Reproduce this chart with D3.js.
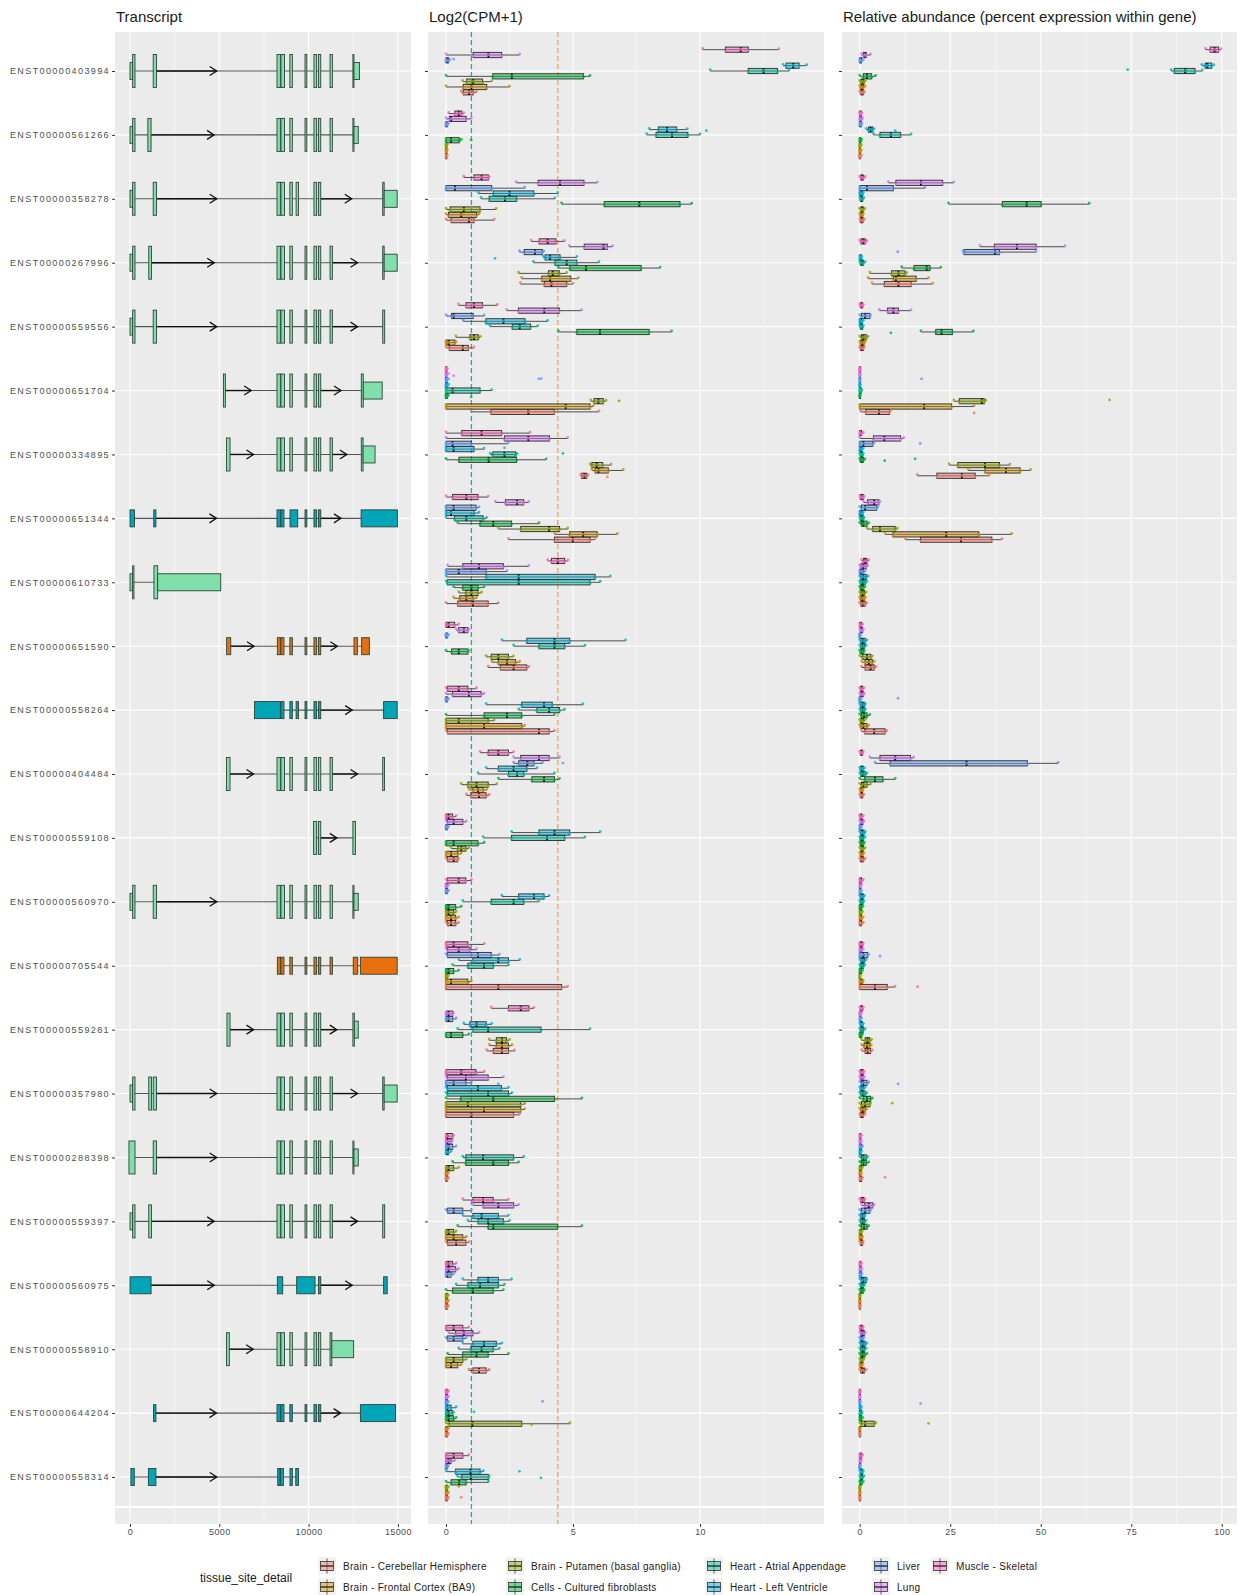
<!DOCTYPE html>
<html>
<head>
<meta charset="utf-8">
<script src="https://cdn.jsdelivr.net/npm/d3@7"></script>
<style>
body { margin: 0; background: #fff; }
svg { display: block; font-family: "Liberation Sans", Arial, sans-serif; }
</style>
</head>
<body>
<svg id="chart" width="1238" height="1595"></svg>
<script>
// ---- data ----
var transcripts = ["ENST00000403994","ENST00000561266","ENST00000358278","ENST00000267996","ENST00000559556",
  "ENST00000651704","ENST00000334895","ENST00000651344","ENST00000610733","ENST00000651590","ENST00000558264",
  "ENST00000404484","ENST00000559108","ENST00000560970","ENST00000705544","ENST00000559281","ENST00000357980",
  "ENST00000288398","ENST00000559397","ENST00000560975","ENST00000558910","ENST00000644204","ENST00000558314"];

var tissues = ["Brain - Cerebellar Hemisphere","Brain - Frontal Cortex (BA9)","Brain - Putamen (basal ganglia)",
  "Cells - Cultured fibroblasts","Heart - Atrial Appendage","Heart - Left Ventricle","Liver","Lung","Muscle - Skeletal"];
var tissueColors = ["#F8766D","#D39200","#93AA00","#00BA38","#00C19F","#00B9E3","#619CFF","#DB72FB","#FF61C3"];

var txType = ["pc","pc","pc","pc","pc","pc","pc","nmd","pc","ri","nmd","pc","pc","pc","ri","pc","pc","pc","pc","nmd","pc","nmd","nmd"];
var typeFill = { pc: "#80dfaa", nmd: "#00a5b8", ri: "#e8700c" };

// exons: [start, end, part] part c = coding (tall), u = utr (short)
var exons = [
  [[0,150,"u"],[150,280,"c"],[1300,1480,"c"],[8230,8420,"c"],[8450,8650,"c"],[8950,9090,"c"],[9800,9900,"c"],[10300,10450,"c"],[10550,10680,"c"],[11200,11330,"c"],[12480,12540,"c"],[12540,12850,"u"]],
  [[0,150,"u"],[150,280,"c"],[1000,1180,"c"],[8230,8420,"c"],[8450,8650,"c"],[8950,9090,"c"],[9800,9900,"c"],[10300,10450,"c"],[10550,10680,"c"],[11200,11330,"c"],[12480,12540,"c"],[12540,12780,"u"]],
  [[0,150,"u"],[150,280,"c"],[1300,1480,"c"],[8230,8420,"c"],[8450,8650,"c"],[8950,9090,"c"],[9300,9430,"c"],[10300,10450,"c"],[10550,10680,"c"],[14150,14230,"c"],[14230,14960,"u"]],
  [[0,150,"u"],[150,280,"c"],[1050,1200,"c"],[8230,8420,"c"],[8450,8650,"c"],[8950,9090,"c"],[9800,9900,"c"],[10300,10450,"c"],[10550,10680,"c"],[11200,11330,"c"],[14150,14230,"c"],[14230,14960,"u"]],
  [[0,150,"u"],[150,280,"c"],[1300,1480,"c"],[8230,8420,"c"],[8450,8650,"c"],[8950,9090,"c"],[9800,9900,"c"],[10300,10450,"c"],[10550,10680,"c"],[11200,11330,"c"],[14150,14260,"c"]],
  [[5230,5340,"c"],[8230,8420,"c"],[8450,8650,"c"],[8950,9090,"c"],[9800,9900,"c"],[10300,10450,"c"],[10550,10680,"c"],[12950,13060,"c"],[13060,14120,"u"]],
  [[5400,5600,"c"],[8230,8420,"c"],[8450,8650,"c"],[8950,9090,"c"],[9800,9900,"c"],[10300,10450,"c"],[10550,10680,"c"],[11200,11330,"c"],[12950,13050,"c"],[13050,13720,"u"]],
  [[0,250,"u"],[1330,1450,"u"],[8230,8420,"u"],[8450,8620,"u"],[8960,9390,"u"],[9800,9900,"u"],[10300,10450,"u"],[10550,10680,"u"],[12940,14970,"u"]],
  [[0,150,"u"],[150,220,"c"],[1340,1550,"c"],[1550,5080,"u"]],
  [[5410,5640,"u"],[8250,8420,"u"],[8450,8620,"u"],[8950,9090,"u"],[9800,9900,"u"],[10300,10450,"u"],[10550,10680,"u"],[12540,12730,"u"],[12970,13400,"u"]],
  [[6970,8420,"u"],[8450,8620,"u"],[8950,9090,"u"],[9300,9430,"u"],[9800,9900,"u"],[10300,10450,"u"],[10550,10680,"u"],[14200,14960,"u"]],
  [[5400,5600,"c"],[8230,8420,"c"],[8450,8650,"c"],[8950,9090,"c"],[9800,9900,"c"],[10300,10450,"c"],[10550,10680,"c"],[11200,11330,"c"],[14150,14250,"c"]],
  [[10280,10450,"c"],[10550,10680,"c"],[12480,12620,"c"]],
  [[0,150,"u"],[150,280,"c"],[1300,1480,"c"],[8230,8420,"c"],[8450,8650,"c"],[8950,9090,"c"],[9800,9900,"c"],[10300,10450,"c"],[10550,10680,"c"],[11200,11330,"c"],[12480,12540,"c"],[12540,12780,"u"]],
  [[8250,8420,"u"],[8450,8620,"u"],[8950,9090,"u"],[9800,9900,"u"],[10300,10450,"u"],[10550,10680,"u"],[11200,11330,"u"],[12500,12750,"u"],[12900,14960,"u"]],
  [[5430,5600,"c"],[8230,8420,"c"],[8450,8650,"c"],[8950,9090,"c"],[9800,9900,"c"],[10300,10450,"c"],[10550,10680,"c"],[12480,12560,"c"],[12560,12780,"u"]],
  [[0,150,"u"],[150,280,"c"],[1050,1200,"c"],[1300,1480,"c"],[8230,8420,"c"],[8450,8650,"c"],[8950,9090,"c"],[9800,9900,"c"],[10300,10450,"c"],[10550,10680,"c"],[11200,11330,"c"],[14150,14230,"c"],[14230,14960,"u"]],
  [[-60,280,"c"],[1300,1480,"c"],[8230,8420,"c"],[8450,8650,"c"],[8950,9090,"c"],[9800,9900,"c"],[10300,10450,"c"],[10550,10680,"c"],[11200,11330,"c"],[12480,12540,"c"],[12540,12780,"u"]],
  [[0,150,"u"],[150,280,"c"],[1050,1200,"c"],[8230,8420,"c"],[8450,8650,"c"],[8950,9090,"c"],[9800,9900,"c"],[10300,10450,"c"],[10550,10680,"c"],[11200,11330,"c"],[14150,14260,"c"]],
  [[0,1180,"u"],[8250,8550,"u"],[9330,10360,"u"],[10550,10680,"u"],[14200,14400,"u"]],
  [[5400,5560,"c"],[8230,8420,"c"],[8450,8650,"c"],[8950,9090,"c"],[9800,9900,"c"],[10300,10450,"c"],[10550,10680,"c"],[11200,11300,"c"],[11300,12520,"u"]],
  [[1320,1450,"u"],[8230,8420,"u"],[8450,8620,"u"],[8950,9090,"u"],[9800,9900,"u"],[10300,10450,"u"],[10550,10680,"u"],[12900,14870,"u"]],
  [[50,240,"u"],[1030,1450,"u"],[8270,8400,"u"],[8430,8590,"u"],[8960,9090,"u"],[9280,9430,"u"]]
];

// boxplot stats per transcript, per tissue: [lower whisker, q1, median, q3, upper whisker]
var cpmStats = [
  [[0.6,0.68,0.91,1.07,1.2],[0,0.68,1.0,1.6,2.5],[0.65,0.81,1.07,1.44,1.8],[0,1.84,2.59,5.41,5.67],[10.4,11.9,12.5,13.05,13.5],[13.27,13.39,13.67,13.9,14.2],[0,0,0.05,0.1,0.15],[0,1.07,1.67,2.19,2.9],[10.1,11.0,11.6,11.9,13.1]],
  [[0,0,0,0.02,0.05],[0,0,0,0.02,0.05],[0,0,0,0.02,0.05],[0,0,0.2,0.52,0.6],[7.9,8.27,8.9,9.52,10.0],[8.0,8.36,8.7,9.08,9.5],[0,0,0,0.05,0.1],[0,0.13,0.2,0.79,1.0],[0.1,0.35,0.5,0.62,0.7]],
  [[0,0.2,0.9,1.1,1.9],[0,0.1,0.6,1.2,1.3],[0,0.16,0.7,1.34,1.97],[4.55,6.23,7.61,9.21,9.67],[1.38,1.7,2.32,2.78,4.29],[1.27,1.86,2.5,3.46,4.4],[0,0,0.35,1.8,3.1],[2.76,3.63,4.49,5.43,5.96],[0.7,1.1,1.4,1.67,1.7]],
  [[2.93,3.87,4.15,4.75,5.0],[2.98,3.77,4.1,4.91,5.21],[2.85,4.03,4.2,4.46,4.75],[4.42,4.88,5.51,7.68,8.43],[3.44,4.29,4.75,5.15,6.02],[3.83,3.9,4.1,4.49,5.15],[2.89,3.08,3.5,3.79,3.85],[4.85,5.44,6.2,6.35,6.56],[3.35,3.67,4.0,4.33,4.66]],
  [[0,0.13,0.66,0.88,1.1],[0,0,0.1,0.35,0.4],[0.39,0.94,1.1,1.27,1.35],[4.42,5.15,6.06,8.0,8.88],[1.73,2.61,2.9,3.33,3.61],[0.68,1.57,2.26,3.11,4.0],[0,0.22,0.3,1.07,1.5],[2.39,2.85,3.87,4.46,5.34],[0.49,0.79,1.1,1.44,2.02]],
  [[0.99,1.77,3.24,4.26,6.02],[0,0,4.71,5.67,5.8],[5.7,5.83,6.0,6.19,6.3],[0,0,0,0.05,0.1],[0,0,0.26,1.34,1.8],[0,0,0,0.05,0.1],[0,0,0,0.02,0.1],[0,0,0,0.02,0.1],[0,0,0,0,0.05]],
  [[5.3,5.34,5.45,5.54,5.6],[5.74,5.87,6.0,6.39,6.98],[5.67,5.74,5.93,6.17,6.5],[0,0.51,1.68,2.78,3.94],[1.74,1.84,2.3,2.74,2.8],[0,0,0.3,1.1,1.5],[0,0,0.26,1.0,2.45],[0,2.3,3.24,4.07,4.79],[0,0.62,1.4,2.19,3.3]],
  [[2.46,4.27,4.99,5.67,5.87],[4.27,4.87,5.4,5.95,6.75],[2.06,2.94,4.06,4.47,4.79],[0.46,1.34,1.86,2.58,3.66],[0,0.34,0.8,1.46,1.6],[0,0,0.2,1.1,1.3],[0,0,0.3,1.18,1.3],[1.94,2.34,2.8,3.06,3.26],[0,0.26,0.8,1.26,1.66]],
  [[0,0.46,1.06,1.66,2.06],[0.3,0.54,0.8,1.06,1.2],[0.5,0.78,1,1.26,1.4],[0.3,0.66,1,1.26,1.5],[0,0.05,2.86,5.67,6.07],[0,1.58,2.86,5.87,6.47],[0,0,0.5,1.58,2.4],[0.06,0.66,1.3,2.26,3.26],[4.0,4.15,4.4,4.67,4.8]],
  [[1.66,2.14,2.66,3.18,3.26],[1.8,2.06,2.4,2.74,2.9],[1.58,1.78,2.06,2.46,2.66],[0,0.22,0.5,0.86,0.9],[2.66,3.66,4.27,4.67,5.47],[2.2,3.18,4.27,4.87,7.07],[0,0,0,0.05,0.1],[0.4,0.5,0.7,0.86,0.9],[0,0,0.1,0.34,0.5]],
  [[0,0.06,3.66,4.06,4.27],[0,0,1.5,2.98,3.1],[0,0,0.5,1.66,1.9],[0,1.5,2.4,2.98,4.27],[2.86,3.58,4.06,4.47,4.67],[1.58,2.98,3.86,4.18,5.39],[0,0,0,0.05,0.1],[0,0.26,0.9,1.38,1.5],[0,0.06,0.5,0.86,1.2]],
  [[0.8,0.98,1.3,1.58,1.7],[0.9,1.06,1.26,1.46,1.6],[0.6,0.86,1.2,1.66,2],[2.06,3.38,3.86,4.27,4.47],[1.26,2.46,2.8,3.06,4.27],[1.58,2.06,2.66,3.18,3.58],[2.66,2.86,3.2,3.46,3.8],[2.66,2.94,3.66,4.06,4.47],[1.34,1.66,2.06,2.46,2.66]],
  [[0,0.06,0.3,0.46,0.5],[0,0,0.2,0.46,0.6],[0.2,0.46,0.6,0.78,0.9],[0,0,0.3,1.26,1.5],[1.46,2.58,3.98,4.67,5.47],[2.58,3.66,4.27,4.87,6.07],[0,0,0,0.05,0.1],[0,0.06,0.3,0.66,0.8],[0,0,0.1,0.26,0.4]],
  [[0,0.06,0.2,0.38,0.5],[0,0,0.2,0.38,0.5],[0,0,0.1,0.3,0.4],[0,0,0.1,0.38,0.6],[0.66,1.78,2.66,3.06,3.66],[2.2,2.86,3.46,3.86,4.06],[0,0,0,0.05,0.1],[0,0,0,0.05,0.1],[0,0.06,0.5,0.78,1]],
  [[0,0,2.06,4.55,4.79],[0,0,0.2,0.86,1],[0,0,0,0.05,0.1],[0,0,0.1,0.3,0.5],[0.26,0.86,1.5,1.86,2.46],[0.5,1.06,2.06,2.46,2.9],[0,0.06,1.26,1.78,2.1],[0,0.06,0.5,0.94,1.2],[0,0,0.3,0.86,1.5]],
  [[1.6,1.86,2.2,2.46,2.7],[1.7,1.98,2.2,2.46,2.6],[1.7,1.98,2.2,2.38,2.5],[0,0,0.2,0.66,0.9],[0.46,1.06,1.66,3.74,5.67],[0.7,0.94,1.2,1.58,1.8],[0,0,0.1,0.26,0.4],[0,0,0.1,0.26,0.3],[1.78,2.46,2.94,3.26,3.46]],
  [[0,0,1.0,2.66,2.9],[0,0,1.5,2.94,3.1],[0,0,0.86,2.94,3.1],[0,0.58,1.86,4.27,5.35],[0,0.06,1.66,2.46,2.6],[0,0.06,1.26,2.18,2.46],[0,0,0.3,0.78,1],[0,0.06,0.78,1.66,2.26],[0,0,0.6,1.18,1.5]],
  [[0,0,0,0.05,0.1],[0,0,0,0.05,0.1],[0,0,0.1,0.3,0.5],[0.26,0.78,1.86,2.46,2.86],[0.66,0.78,1.46,2.66,3.06],[0,0,0.05,0.1,0.2],[0,0,0.1,0.26,0.4],[0,0,0.05,0.2,0.25],[0,0,0.05,0.26,0.3]],
  [[0,0.06,0.4,0.78,0.9],[0,0,0.3,0.66,0.8],[0,0,0.1,0.3,0.4],[0.46,1.66,1.86,4.39,5.35],[0.86,1.26,1.66,2.26,2.5],[0.66,1.06,1.4,2.06,2.46],[0,0.06,0.3,0.66,1],[1.06,1.46,2.06,2.66,2.86],[0.66,1.06,1.46,1.86,2.46]],
  [[0,0,0,0.05,0.1],[0,0,0,0.05,0.1],[0,0,0,0.05,0.1],[0,0.26,1.06,1.86,2.26],[0.4,0.86,1.34,2.06,2.3],[0.66,1.26,1.66,2.06,2.58],[0,0,0.05,0.2,0.3],[0,0,0.1,0.38,0.5],[0,0,0.1,0.26,0.4]],
  [[0.9,1.06,1.3,1.58,1.7],[0,0,0.2,0.46,0.6],[0,0,0.3,0.66,0.8],[0.06,0.66,1.2,1.66,2.46],[0.5,0.98,1.4,1.86,2.1],[0.66,1.06,1.5,1.98,2.2],[0,0.06,0.3,0.66,0.8],[0.1,0.38,0.7,1.06,1.3],[0,0,0.3,0.66,0.9]],
  [[0,0,0,0.05,0.1],[0,0,0,0.05,0.1],[0,0.12,1.04,2.98,4.88],[0,0,0.1,0.3,0.4],[0,0,0.1,0.25,0.3],[0,0,0.05,0.2,0.4],[0,0,0,0.05,0.1],[0,0,0,0.05,0.1],[0,0,0,0.05,0.1]],
  [[0,0,0,0.05,0.1],[0,0,0,0.05,0.1],[0,0,0,0.05,0.1],[0,0.2,0.52,0.79,1.67],[0.45,0.62,0.98,1.67,1.7],[0,0.38,0.96,1.34,1.47],[0,0,0,0.05,0.1],[0,0,0.1,0.2,0.35],[0,0,0.3,0.66,0.9]]
];

var relStats = [
  [[0,0.3,0.6,1,1.3],[0,0.2,0.5,1,1.5],[0,0.3,0.8,1.2,1.6],[0,1,2,3.3,4.4],[86,86.9,89.9,92.6,94.6],[94.5,95.4,96,97.2,97.8],[0,0,0.2,0.5,1],[0.5,1,1.5,1.8,3],[95.5,96.8,98,99.1,99.8]],
  [[0,0,0,0.2,0.5],[0,0,0,0.2,0.5],[0,0,0,0.2,0.5],[0,0,0.1,0.3,0.5],[3.8,5.6,8.6,11.3,14.2],[1.8,2.4,3,3.6,4],[0,0,0.1,0.4,0.6],[0,0,0.2,0.5,0.8],[0,0,0.2,0.4,0.6]],
  [[0,0.2,0.5,0.9,1.3],[0,0.2,0.4,0.8,1],[0,0.3,0.6,1,1.4],[24.5,39.4,46.1,50.1,63.4],[0,0.2,0.5,0.8,1.2],[0,0,0.3,0.8,1],[0,0,2,9.3,18],[7.9,10,16.9,22.9,26],[0,0.3,0.6,1,1.5]],
  [[3.4,6.8,10.7,14.2,20.2],[2.3,9.3,10,15.6,19],[2.8,8.8,10.7,12.5,13],[11.6,15,18.5,19.4,22.4],[0,0.2,0.6,1,1.5],[0,0,0.2,0.4,0.6],[28.5,28.8,37.4,38.6,48.7],[33.2,37.2,43.4,48.7,56.7],[0,0.3,1,1.5,2]],
  [[0,0.2,0.5,1,1.3],[0,0.2,0.7,1.2,1.5],[0,0.5,1,1.8,2.3],[16.9,21,22.6,25.6,31.4],[0,0.2,0.5,0.8,1],[0,0,0.3,0.6,1],[0,0.5,1.5,2.8,3],[5.4,7.7,9.3,10.7,14.2],[0,0.2,0.5,0.8,1]],
  [[0.2,1.7,5.3,8.2,8.5],[0,0,17.8,25.4,31.6],[26,27.5,33.7,34.4,34.8],[0,0,0,0.1,0.2],[0,0,0.1,0.4,0.6],[0,0,0,0.1,0.2],[0,0,0,0.1,0.2],[0,0,0,0.1,0.2],[0,0,0,0.1,0.2]],
  [[15.9,21.3,28.2,31.9,35.8],[30,34.6,40.4,44.3,47.2],[24.7,27.1,34.6,38.6,41.5],[0,0.2,0.5,1,1.5],[0,0.2,0.5,0.8,1],[0,0,0.3,0.6,1],[0,0,1,3.6,4],[0,3.8,6.8,11.3,12.2],[0,0,0.2,0.5,1]],
  [[12.6,16.8,28,36.5,39.3],[7,9.2,23.9,32.9,42],[2,3.6,5.6,9.8,10.4],[0,0.5,1,2,2.5],[0,0.2,0.5,1,1.2],[0,0,0.3,0.8,1],[0,0.5,1.5,4.7,5],[1,2.2,4,5.3,5.6],[0,0.2,0.5,1,1.2]],
  [[0,0.3,0.8,1.5,2],[0,0.2,0.6,1.2,1.6],[0,0.3,0.8,1.3,1.8],[0,0.2,0.6,1,1.5],[0,0.2,0.8,1.5,2],[0,0.3,1,1.8,2.3],[0,0,0.3,1,1.5],[0,0.3,1,1.8,2.2],[0.5,1,1.5,2,2.5]],
  [[0.5,1.5,3,4,4.5],[0.5,1.5,2.5,3.5,4],[0,0.8,2,3.1,3.5],[0,0.2,0.5,1,1.3],[0,0.3,0.8,1.3,1.8],[0,0.3,0.8,1.5,2],[0,0,0,0.1,0.2],[0,0.2,0.5,0.8,1],[0,0,0.2,0.5,0.8]],
  [[0.5,1.4,4,7,7.5],[0,0.3,1,2,2.5],[0,0.2,0.5,1,1.5],[0,0.5,1.2,2,2.8],[0,0.3,0.8,1.3,1.6],[0,0.2,0.8,1.3,1.6],[0,0,0,0.2,0.4],[0,0.2,0.5,1,1.3],[0,0.2,0.5,0.8,1.2]],
  [[0,0.2,0.5,0.8,1.2],[0,0.2,0.5,0.8,1],[0,0.5,1,2,3],[0,1.4,4.2,6.4,9.8],[0,0.3,0.8,1.5,2],[0,0.2,0.5,1,1.3],[4.2,8.4,29.5,46.3,54.8],[2.8,5.6,9.8,14,14.9],[0,0.2,0.5,0.8,1]],
  [[0,0.2,0.5,1,1.5],[0,0.2,0.4,0.8,1.2],[0,0.3,0.6,1,1.5],[0,0.2,0.5,1,1.3],[0,0.2,0.6,1,1.5],[0,0.3,0.7,1.2,1.6],[0,0,0.1,0.3,0.5],[0,0.2,0.5,0.9,1.2],[0,0.1,0.3,0.6,1]],
  [[0,0,0.2,0.5,1],[0,0,0.2,0.5,1],[0,0,0.2,0.5,0.8],[0,0,0.2,0.5,0.9],[0,0.2,0.5,0.9,1.2],[0,0.2,0.6,1,1.3],[0,0,0.1,0.3,0.5],[0,0,0.1,0.3,0.5],[0,0,0.2,0.5,1]],
  [[0,0,4.2,7.6,9.8],[0,0,0.3,0.8,1],[0,0,0,0.1,0.2],[0,0,0.2,0.5,0.8],[0,0.2,0.5,1,1.4],[0,0.3,0.8,1.3,1.8],[0,0,1,2.2,2.5],[0,0,0.3,0.6,1],[0,0,0.3,0.8,1]],
  [[0.5,1.5,2.2,3,3.5],[0.5,1.2,2,2.8,3.2],[0.5,1.5,2.2,2.8,3.3],[0,0,0.2,0.5,0.8],[0,0.2,0.5,1,1.5],[0,0.2,0.4,0.8,1],[0,0,0.1,0.3,0.5],[0,0,0.1,0.3,0.5],[0,0.2,0.5,0.8,1]],
  [[0,0.2,0.6,1,1.5],[0,0.3,0.8,1.5,2],[0,0.5,1.5,2.8,3],[0,1,2,3,3.5],[0,0.3,0.8,1.5,2],[0,0.2,0.5,1,1.5],[0,0.5,1,2,2.5],[0,0.2,0.5,1,1.3],[0,0.2,0.5,1,1.2]],
  [[0,0,0.2,0.5,0.8],[0,0,0.1,0.3,0.5],[0,0,0.2,0.5,0.8],[0,0.5,1,1.8,2.5],[0,0.5,1,1.8,2.2],[0,0,0.1,0.3,0.5],[0,0,0.2,0.5,0.8],[0,0,0.1,0.3,0.5],[0,0,0.1,0.3,0.5]],
  [[0,0.2,0.5,0.8,1],[0,0,0.3,0.6,0.8],[0,0,0.2,0.5,0.7],[0,0.5,1.2,2,2.5],[0,0.3,0.8,1.3,1.8],[0,0.3,0.8,1.3,1.5],[0,0.5,1.5,2.8,3],[0.5,1.4,2.5,3.6,4],[0,0.3,0.8,1.2,1.5]],
  [[0,0,0,0.1,0.2],[0,0,0,0.1,0.2],[0,0,0,0.1,0.2],[0,0.2,0.5,1,1.3],[0,0.3,0.6,1,1.4],[0,0.5,1,1.8,2],[0,0,0.2,0.4,0.6],[0,0,0.2,0.4,0.6],[0,0,0.1,0.3,0.5]],
  [[0,0.3,0.8,1.3,1.8],[0,0.1,0.3,0.6,0.9],[0,0.2,0.5,0.9,1.2],[0,0.3,0.8,1.4,2],[0,0.3,0.8,1.3,1.8],[0,0.3,0.8,1.5,2],[0,0.2,0.5,0.9,1.2],[0,0.3,0.8,1.3,1.6],[0,0.1,0.4,0.8,1]],
  [[0,0,0,0.1,0.2],[0,0,0,0.1,0.2],[0,0.4,1.5,4,4.5],[0,0,0.2,0.5,0.8],[0,0,0.2,0.5,0.7],[0,0,0.1,0.3,0.5],[0,0,0,0.1,0.2],[0,0,0,0.1,0.2],[0,0,0,0.1,0.2]],
  [[0,0,0,0.1,0.2],[0,0,0,0.1,0.2],[0,0,0,0.1,0.2],[0,0.1,0.3,0.6,1],[0,0.2,0.5,0.8,1.2],[0,0.2,0.4,0.8,1],[0,0,0,0.1,0.2],[0,0,0.1,0.3,0.5],[0,0,0.2,0.5,0.8]]
];

// extra single observations beyond the boxes: [transcript index, tissue index, value]
var cpmOutliers = [[0,6,0.3],[1,5,10.25],[1,3,0.99],[3,5,1.93],[5,6,3.65],[5,6,3.75],[5,7,0.3],[5,2,6.81],[5,3,0.99],
  [6,4,4.6],[6,5,2.3],[6,0,6.35],[11,6,4.6],[16,6,2.06],[21,6,3.8],[21,4,1.1],[21,2,3.37],[22,5,2.89],[22,4,3.74],[22,0,0.6],[22,2,0.5]];
var relOutliers = [[0,4,74],[1,5,9.8],[3,6,10.5],[4,3,8.6],[5,6,17.1],[5,2,69],[5,0,31.6],[6,6,16.7],[6,3,6.9],[6,3,15.3],
  [10,6,10.6],[14,6,5.6],[14,0,16],[16,6,10.6],[16,2,9],[17,0,7],[21,6,16.8],[21,2,19]];

var genomeTicks = [0, 5000, 10000, 15000];
var genomeMinor = [2500, 7500, 12500];
var cpmTicks = [0, 5, 10];
var cpmMinor = [2.5, 7.5, 12.5];
var relTicks = [0, 25, 50, 75, 100];
var relMinor = [12.5, 37.5, 62.5, 87.5];
var cpmCutoffs = [1, 4.4];
var cutoffColors = ["#27aaa0", "#f8a13d"];

// ---- layout ----
var svg = d3.select("#chart");
var panelTop = 32, panelBottom = 1506, stripTop = 1508, stripBottom = 1524;
var slot = 5.33, boxH = 5.2;
var jit = [-1.3, 1.1, -0.3, 0.9, -1.0];

var y = d3.scalePoint().domain(transcripts).range([71, 1477]);
var x1 = d3.scaleLinear().domain([-840, 15733]).range([115, 411]);
var x2 = d3.scaleLinear().domain([-0.709, 14.88]).range([428, 824]);
var x3 = d3.scaleLinear().domain([-4.89, 104.2]).range([842, 1237]);

function frame(x, major, minor, title, showLabels) {
  var g = svg.append("g");
  var r = x.range();
  [[panelTop, panelBottom], [stripTop, stripBottom]].forEach(function(b) {
    g.append("rect").attr("x", r[0]).attr("y", b[0]).attr("width", r[1] - r[0]).attr("height", b[1] - b[0]).attr("fill", "#ebebeb");
    g.selectAll(null).data(minor).enter().append("line")
      .attr("x1", function(d) { return x(d); }).attr("x2", function(d) { return x(d); })
      .attr("y1", b[0]).attr("y2", b[1]).attr("stroke", "#fff").attr("stroke-width", 0.55);
    g.selectAll(null).data(major).enter().append("line")
      .attr("x1", function(d) { return x(d); }).attr("x2", function(d) { return x(d); })
      .attr("y1", b[0]).attr("y2", b[1]).attr("stroke", "#fff").attr("stroke-width", 1.1);
  });
  g.selectAll(null).data(transcripts).enter().append("line")
    .attr("x1", r[0]).attr("x2", r[1]).attr("y1", function(d) { return y(d); }).attr("y2", function(d) { return y(d); })
    .attr("stroke", "#fff").attr("stroke-width", 1.1);

  var ax = g.append("g").attr("transform", "translate(0," + stripBottom + ")")
    .call(d3.axisBottom(x).tickValues(major).tickSize(3).tickPadding(2).tickFormat(d3.format("d")));
  ax.select(".domain").remove();
  ax.selectAll("line").attr("stroke", "#333");
  ax.selectAll("text").attr("fill", "#4d4d4d").attr("font-size", 9).attr("letter-spacing", 0.4)
    .attr("font-family", "Liberation Sans, Arial, sans-serif");

  var ay = g.append("g").attr("transform", "translate(" + r[0] + ",0)")
    .call(d3.axisLeft(y).tickSize(3).tickPadding(2).tickFormat(showLabels ? null : ""));
  ay.select(".domain").remove();
  ay.selectAll("line").attr("stroke", "#333");
  ay.selectAll("text").attr("fill", "#4d4d4d").attr("font-size", 9).attr("letter-spacing", 1.4)
    .attr("font-family", "Liberation Sans, Arial, sans-serif");

  g.append("text").attr("x", r[0] + 1).attr("y", 22).attr("font-size", 15).attr("fill", "#1a1a1a").text(title);
  return g;
}

// ---- panel 1: transcript structures ----
var g1 = frame(x1, genomeTicks, genomeMinor, "Transcript", true);
transcripts.forEach(function(t, i) {
  var ex = exons[i], cy = y(t);
  var row = g1.append("g");
  row.append("line").attr("x1", x1(ex[0][0])).attr("x2", x1(ex[ex.length - 1][1]))
    .attr("y1", cy).attr("y2", cy).attr("stroke", "#555").attr("stroke-width", 1.1);
  for (var k = 1; k < ex.length; k++) {
    var a = ex[k - 1][1], b = ex[k][0];
    if (b - a > 1500) {
      var m = (a + b) / 2;
      row.append("line").attr("x1", x1(a)).attr("x2", x1(m)).attr("y1", cy).attr("y2", cy)
        .attr("stroke", "#111").attr("stroke-width", 1.4);
      row.append("path").attr("d", "M" + (x1(m) - 7) + "," + (cy - 4.5) + "L" + x1(m) + "," + cy + "L" + (x1(m) - 7) + "," + (cy + 4.5))
        .attr("fill", "none").attr("stroke", "#111").attr("stroke-width", 1.3);
    }
  }
  row.selectAll("rect").data(ex).enter().append("rect")
    .attr("x", function(d) { return x1(d[0]); })
    .attr("width", function(d) { return Math.max(1, x1(d[1]) - x1(d[0])); })
    .attr("y", function(d) { return cy - (d[2] === "c" ? 16.5 : 8.5); })
    .attr("height", function(d) { return d[2] === "c" ? 33 : 17; })
    .attr("fill", typeFill[txType[i]]).attr("stroke", "#2c4438").attr("stroke-width", 0.9);
});

// ---- panels 2 and 3: boxplots per tissue ----
function boxPanel(g, x, stats, outliers) {
  var boxes = g.append("g"), pts = g.append("g");
  transcripts.forEach(function(t, i) {
    stats[i].forEach(function(s, j) {
      var cy = y(t) + (4 - j) * slot, col = tissueColors[j];
      boxes.append("line").attr("x1", x(s[0])).attr("x2", x(s[4])).attr("y1", cy).attr("y2", cy)
        .attr("stroke", "#4d4d4d").attr("stroke-width", 1);
      boxes.append("rect").attr("x", x(s[1])).attr("y", cy - boxH / 2)
        .attr("width", Math.max(0.8, x(s[3]) - x(s[1]))).attr("height", boxH)
        .attr("fill", col).attr("fill-opacity", 0.5).attr("stroke", "#3a3a3a").attr("stroke-width", 1);
      boxes.append("line").attr("x1", x(s[2])).attr("x2", x(s[2])).attr("y1", cy - boxH / 2).attr("y2", cy + boxH / 2)
        .attr("stroke", "#111").attr("stroke-width", 1.8);
      s.forEach(function(v, k) {
        pts.append("circle").attr("cx", x(v)).attr("cy", cy + jit[k]).attr("r", 1.4)
          .attr("fill", col).attr("fill-opacity", 0.85);
      });
    });
  });
  outliers.forEach(function(o, k) {
    pts.append("circle").attr("cx", x(o[2])).attr("cy", y(transcripts[o[0]]) + (4 - o[1]) * slot + jit[k % 5])
      .attr("r", 1.4).attr("fill", tissueColors[o[1]]).attr("fill-opacity", 0.85);
  });
}

var g2 = frame(x2, cpmTicks, cpmMinor, "Log2(CPM+1)", false);
g2.selectAll(null).data(cpmCutoffs).enter().append("line")
  .attr("x1", function(d) { return x2(d); }).attr("x2", function(d) { return x2(d); })
  .attr("y1", panelTop).attr("y2", stripBottom)
  .attr("stroke", function(d, i) { return cutoffColors[i]; })
  .attr("stroke-width", 1.3).attr("stroke-dasharray", "5,3");
boxPanel(g2, x2, cpmStats, cpmOutliers);

var g3 = frame(x3, relTicks, relMinor, "Relative abundance (percent expression within gene)", false);
boxPanel(g3, x3, relStats, relOutliers);

// ---- legend ----
var lg = svg.append("g");
lg.append("text").attr("x", 200).attr("y", 1582).attr("font-size", 12).attr("fill", "#1a1a1a").text("tissue_site_detail");
var colX = [318, 506, 705, 872, 931];
var rowY = [1566, 1587];
tissues.forEach(function(name, i) {
  var kx = colX[Math.floor(i / 2)], ky = rowY[i % 2] - 9;
  var key = lg.append("g").attr("transform", "translate(" + kx + "," + ky + ")");
  key.append("rect").attr("width", 18).attr("height", 18).attr("fill", "#f2f2f2");
  key.append("line").attr("x1", 9).attr("x2", 9).attr("y1", 1.5).attr("y2", 16.5).attr("stroke", "#333").attr("stroke-width", 0.8);
  key.append("rect").attr("x", 2.5).attr("y", 4.5).attr("width", 13).attr("height", 9)
    .attr("fill", tissueColors[i]).attr("fill-opacity", 0.5).attr("stroke", "#333").attr("stroke-width", 0.8);
  key.append("line").attr("x1", 2.5).attr("x2", 15.5).attr("y1", 9).attr("y2", 9).attr("stroke", "#111").attr("stroke-width", 1.2);
  lg.append("text").attr("x", kx + 25).attr("y", ky + 12.5).attr("font-size", 10).attr("fill", "#1a1a1a")
    .attr("letter-spacing", 0.3).text(name);
});
</script>
</body>
</html>
